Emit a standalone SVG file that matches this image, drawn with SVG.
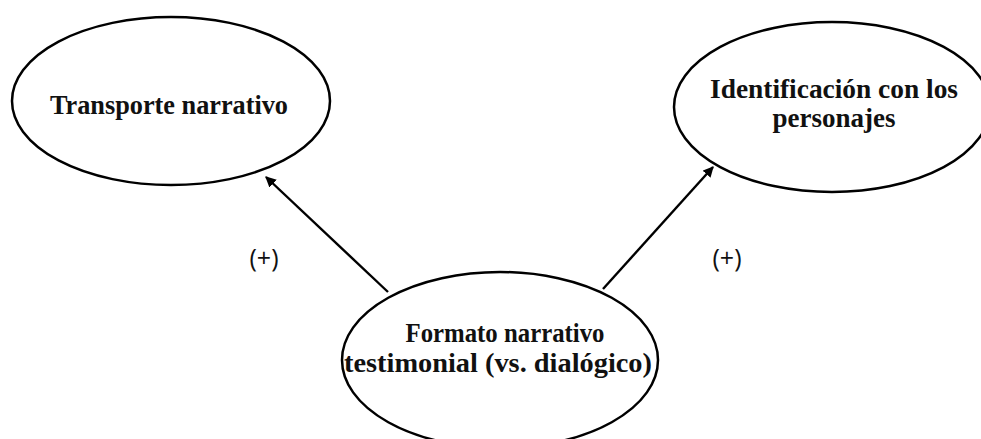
<svg xmlns="http://www.w3.org/2000/svg" width="981" height="439" viewBox="0 0 981 439">
  <defs>
    <style>
      .node ellipse { fill: #ffffff; stroke: #000000; stroke-width: 2.5; }
      .label { font-family: "Liberation Serif", "Times New Roman", serif; font-weight: bold; font-size: 27px; fill: #111111; text-anchor: middle; }
      .edge { stroke: #000000; stroke-width: 2.4; fill: none; marker-end: url(#arrow); }
      .sign { font-family: "Open Sans", "Liberation Sans", sans-serif; font-size: 25px; fill: #111111; text-anchor: middle; }
    </style>
    <marker id="arrow" viewBox="0 0 10 10" refX="9" refY="5" markerWidth="4.5" markerHeight="4.5" orient="auto" markerUnits="strokeWidth">
      <path d="M0,0 L10,5 L0,10 z" fill="#000000"/>
    </marker>
  </defs>
  <rect width="981" height="439" fill="#ffffff"/>

  <g id="node-transporte" class="node">
    <ellipse cx="171" cy="101" rx="159" ry="84"/>
    <text class="label" x="169" y="114" textLength="238" lengthAdjust="spacingAndGlyphs">Transporte narrativo</text>
  </g>

  <g id="node-identificacion" class="node">
    <ellipse cx="832" cy="107" rx="158" ry="85"/>
    <text class="label" x="834" y="98" textLength="248" lengthAdjust="spacingAndGlyphs">Identificación con los</text>
    <text class="label" x="834" y="127">personajes</text>
  </g>

  <g id="node-formato" class="node">
    <ellipse cx="500" cy="360" rx="158" ry="88"/>
    <text class="label" x="505" y="342" textLength="199" lengthAdjust="spacingAndGlyphs">Formato narrativo</text>
    <text class="label" x="498" y="372" textLength="308" lengthAdjust="spacingAndGlyphs">testimonial (vs. dialógico)</text>
  </g>

  <g id="connectors">
    <line class="edge" x1="388" y1="292" x2="266" y2="177"/>
    <line class="edge" x1="603" y1="289" x2="713" y2="167"/>
    <text class="sign" x="264" y="267">(+)</text>
    <text class="sign" x="727" y="267">(+)</text>
  </g>
</svg>
